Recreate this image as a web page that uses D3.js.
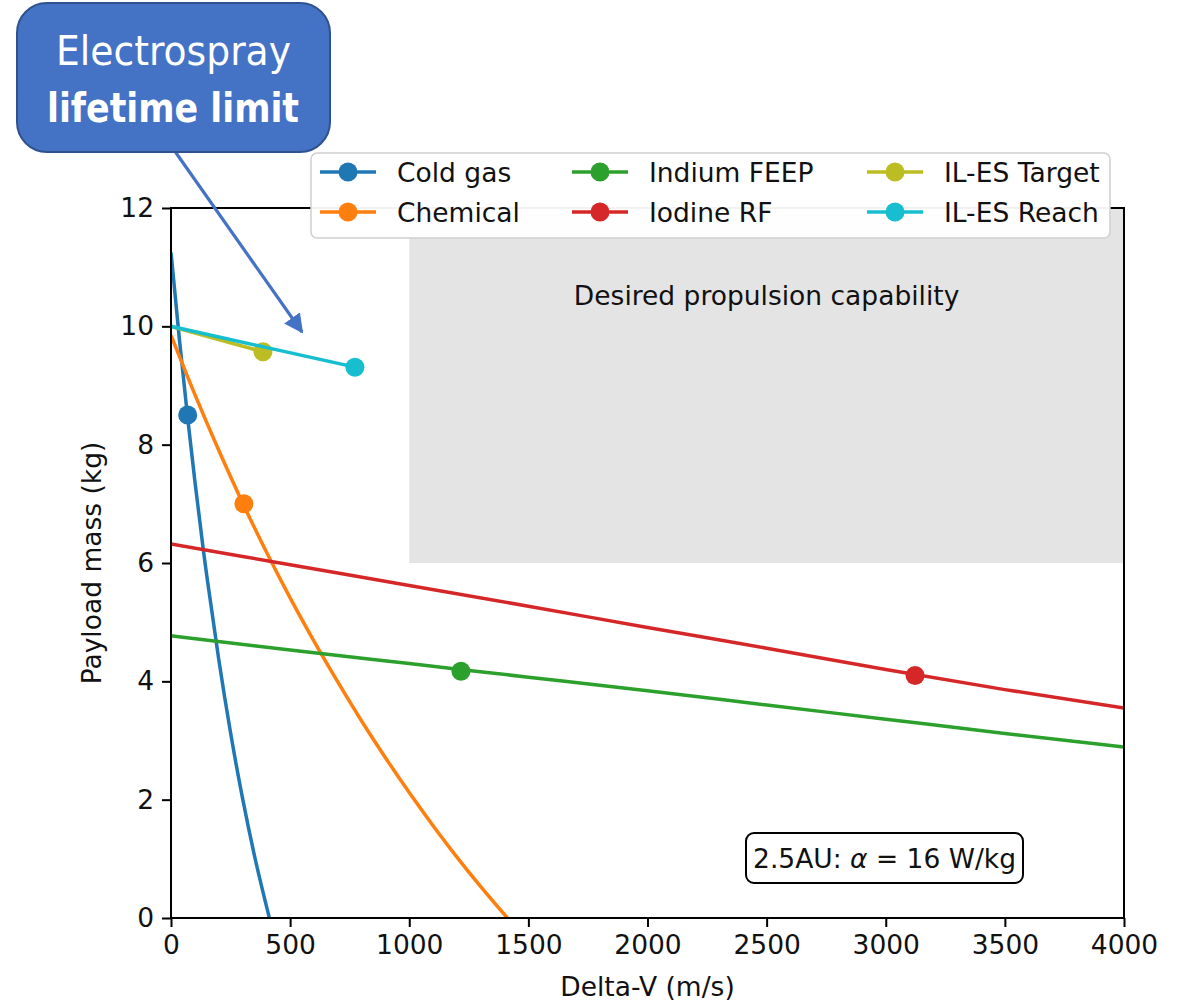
<!DOCTYPE html>
<html>
<head>
<meta charset="utf-8">
<script src="https://cdn.jsdelivr.net/npm/d3@7"></script>
<style>
  html, body { margin: 0; padding: 0; background: #ffffff; }
  svg { display: block; }
  text { font-family: "DejaVu Sans", sans-serif; }
</style>
</head>
<body>
<svg id="chart" width="1179" height="1000"></svg>
<script>
// ---------- data ----------
const xTicks = [0, 500, 1000, 1500, 2000, 2500, 3000, 3500, 4000];
const yTicks = [0, 2, 4, 6, 8, 10, 12];

const seriesNames = ["Cold gas", "Chemical", "Indium FEEP", "Iodine RF", "IL-ES Target", "IL-ES Reach"];
const seriesColors = ["#1f77b4", "#ff7f0e", "#2ca02c", "#d62728", "#bcbd22", "#17becf"];

const coldGasDv   = [0, 35, 70, 100, 136, 150, 200, 250, 300, 350, 413];
const coldGasMass = [11.25, 9.79, 8.45, 7.39, 6.21, 5.79, 4.38, 3.13, 2.03, 1.06, 0];

const chemicalDv   = [0, 100, 200, 306, 400, 500, 600, 700, 800, 900, 1000, 1100, 1200, 1300, 1412];
const chemicalMass = [9.85, 8.85, 7.91, 6.97, 6.19, 5.41, 4.68, 3.99, 3.33, 2.71, 2.12, 1.56, 1.03, 0.53, 0];

const feepDv   = [0, 500, 1000, 1500, 2000, 2500, 3000, 3500, 4000];
const feepMass = [4.77, 4.53, 4.30, 4.07, 3.84, 3.60, 3.36, 3.12, 2.89];

const iodineDv   = [0, 500, 1000, 1500, 2000, 2500, 3000, 3500, 4000];
const iodineMass = [6.32, 5.97, 5.62, 5.27, 4.91, 4.56, 4.20, 3.86, 3.55];

const targetDv   = [0, 386];
const targetMass = [10.0, 9.57];

const reachDv   = [0, 772];
const reachMass = [10.0, 9.31];

const markerDv   = [70, 306, 1217, 3123, 386, 772];
const markerMass = [8.5, 7.0, 4.17, 4.10, 9.57, 9.31];

const desiredRegion = { x0: 1000, x1: 4000, y0: 6, y1: 12 };
const desiredLabel = "Desired propulsion capability";
const noteLabel = "2.5AU: ";
const noteLabel2 = " = 16 W/kg";
const calloutLines = ["Electrospray", "lifetime limit"];

// ---------- layout ----------
const FS = 26.5;
const svg = d3.select("#chart");
const margin = { left: 171, right: 1124, top: 208, bottom: 918 };
const x = d3.scaleLinear().domain([0, 4000]).range([margin.left, margin.right]);
const y = d3.scaleLinear().domain([0, 12]).range([margin.bottom, margin.top]);

svg.append("rect").attr("width", 1179).attr("height", 1000).attr("fill", "#fff");

const defs = svg.append("defs");
defs.append("clipPath").attr("id", "plotclip")
  .append("rect").attr("x", margin.left).attr("y", margin.top)
  .attr("width", margin.right - margin.left).attr("height", margin.bottom - margin.top);

// desired region
svg.append("rect")
  .attr("x", x(desiredRegion.x0)).attr("y", y(desiredRegion.y1))
  .attr("width", x(desiredRegion.x1) - x(desiredRegion.x0))
  .attr("height", y(desiredRegion.y0) - y(desiredRegion.y1))
  .attr("fill", "#e4e4e4");

svg.append("text")
  .attr("x", x(2500)).attr("y", y(10.52))
  .attr("text-anchor", "middle").attr("dominant-baseline", "central")
  .attr("font-size", FS).attr("fill", "#111")
  .text(desiredLabel);

// series lines
const allDv = [coldGasDv, chemicalDv, feepDv, iodineDv, targetDv, reachDv];
const allMass = [coldGasMass, chemicalMass, feepMass, iodineMass, targetMass, reachMass];
const line = d3.line().x(d => x(d[0])).y(d => y(d[1])).curve(d3.curveMonotoneX);
const plotG = svg.append("g").attr("clip-path", "url(#plotclip)");

seriesNames.forEach((name, i) => {
  const pts = allDv[i].map((v, j) => [v, allMass[i][j]]);
  plotG.append("path")
    .attr("d", line(pts))
    .attr("fill", "none")
    .attr("stroke", seriesColors[i])
    .attr("stroke-width", 3.5)
    .attr("stroke-linejoin", "round");
  plotG.append("circle")
    .attr("cx", x(markerDv[i])).attr("cy", y(markerMass[i]))
    .attr("r", 9.5).attr("fill", seriesColors[i]);
});

// axes
const xAxis = d3.axisBottom(x).tickValues(xTicks).tickSize(9).tickPadding(8).tickFormat(d3.format("d"));
const yAxis = d3.axisLeft(y).tickValues(yTicks).tickSize(9).tickPadding(8).tickFormat(d3.format("d"));

const gx = svg.append("g").attr("transform", `translate(0,${margin.bottom})`).call(xAxis);
const gy = svg.append("g").attr("transform", `translate(${margin.left},0)`).call(yAxis);
[gx, gy].forEach(g => {
  g.select(".domain").remove();
  g.selectAll(".tick line").attr("stroke", "#000").attr("stroke-width", 2);
  g.selectAll(".tick text").attr("font-size", FS).attr("fill", "#111")
    .attr("font-family", "DejaVu Sans, sans-serif");
});

// spines
svg.append("rect")
  .attr("x", margin.left).attr("y", margin.top)
  .attr("width", margin.right - margin.left).attr("height", margin.bottom - margin.top)
  .attr("fill", "none").attr("stroke", "#000").attr("stroke-width", 2);

// axis labels
svg.append("text")
  .attr("x", (margin.left + margin.right) / 2).attr("y", 986)
  .attr("text-anchor", "middle").attr("dominant-baseline", "central")
  .attr("font-size", FS).attr("fill", "#111").text("Delta-V (m/s)");
svg.append("text")
  .attr("transform", `translate(91,${(margin.top + margin.bottom) / 2}) rotate(-90)`)
  .attr("text-anchor", "middle").attr("dominant-baseline", "central")
  .attr("font-size", FS).attr("fill", "#111").text("Payload mass (kg)");

// note box
const noteG = svg.append("g");
noteG.append("rect")
  .attr("x", 746).attr("y", 833).attr("width", 277).attr("height", 50)
  .attr("rx", 8).attr("fill", "#fff").attr("stroke", "#000").attr("stroke-width", 2);
const noteText = noteG.append("text")
  .attr("x", x(2995)).attr("y", y(1.02))
  .attr("text-anchor", "middle").attr("dominant-baseline", "central")
  .attr("font-size", FS).attr("fill", "#111");
noteText.append("tspan").text(noteLabel);
noteText.append("tspan").attr("font-style", "italic").text("α");
noteText.append("tspan").text(noteLabel2);

// legend
const legG = svg.append("g");
legG.append("rect")
  .attr("x", 311).attr("y", 153).attr("width", 799).attr("height", 85)
  .attr("rx", 6).attr("fill", "#fff").attr("fill-opacity", 0.95)
  .attr("stroke", "#d0d0d0").attr("stroke-width", 1.5);
const colX = [320, 572, 867];
const rowY = [172, 212];
seriesNames.forEach((name, i) => {
  const col = Math.floor(i / 2), row = i % 2;
  const cx = colX[col], cy = rowY[row];
  legG.append("line").attr("x1", cx).attr("x2", cx + 56).attr("y1", cy).attr("y2", cy)
    .attr("stroke", seriesColors[i]).attr("stroke-width", 3.5);
  legG.append("circle").attr("cx", cx + 28).attr("cy", cy).attr("r", 9.5).attr("fill", seriesColors[i]);
  legG.append("text").attr("x", cx + 77).attr("y", cy)
    .attr("dominant-baseline", "central").attr("font-size", FS).attr("fill", "#111")
    .text(name);
});

// callout
defs.append("marker").attr("id", "arrowhead")
  .attr("viewBox", "0 0 10 10").attr("refX", 9).attr("refY", 5)
  .attr("markerWidth", 6).attr("markerHeight", 6).attr("orient", "auto")
  .attr("markerUnits", "strokeWidth")
  .append("path").attr("d", "M0,0 L10,5 L0,10 z").attr("fill", "#4472C4");
svg.append("line")
  .attr("x1", 174).attr("y1", 150).attr("x2", 302).attr("y2", 332)
  .attr("stroke", "#4472C4").attr("stroke-width", 3.2)
  .attr("marker-end", "url(#arrowhead)");
svg.append("rect")
  .attr("x", 17).attr("y", 3).attr("width", 313).attr("height", 149)
  .attr("rx", 30).attr("fill", "#4472C4").attr("stroke", "#2F528F").attr("stroke-width", 2);
svg.append("text").attr("x", 56).attr("y", 65)
  .attr("font-size", 40).attr("fill", "#fff")
  .attr("font-family", "Lato, 'Open Sans', sans-serif")
  .attr("textLength", 235).attr("lengthAdjust", "spacingAndGlyphs")
  .text(calloutLines[0]);
svg.append("text").attr("x", 47).attr("y", 122)
  .attr("font-size", 40).attr("font-weight", "bold").attr("fill", "#fff")
  .attr("font-family", "Lato, 'Open Sans', sans-serif")
  .attr("textLength", 252).attr("lengthAdjust", "spacingAndGlyphs")
  .text(calloutLines[1]);
</script>
</body>
</html>
